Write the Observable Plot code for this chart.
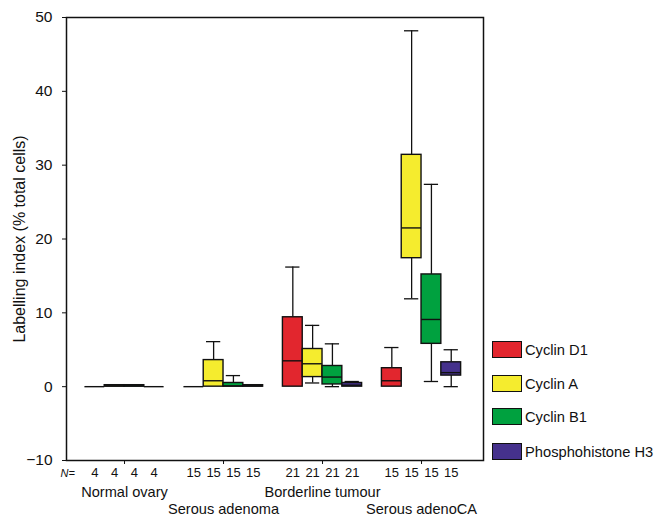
<!DOCTYPE html>
<html><head><meta charset="utf-8">
<script src="https://cdn.jsdelivr.net/npm/d3@7"></script>
<script src="https://cdn.jsdelivr.net/npm/@observablehq/plot@0.6"></script>
<style>
body{margin:0;background:#fff;font-family:Arial,"Liberation Sans",Helvetica,sans-serif;}
#wrap{position:relative;width:656px;height:518px;}
#wrap svg{overflow:visible;}
#wrap svg g[aria-label^="y-axis"] text{font-size:15.5px;}
.leg{position:absolute;left:492px;display:flex;align-items:center;font-size:14.7px;color:#111;height:17px;}
.sw{width:28px;height:15px;border:1px solid #111;margin-right:3px;box-sizing:content-box;}
</style></head><body><div id="wrap"></div>
<script>
const groups = ["Normal ovary", "Serous adenoma", "Borderline tumour", "Serous adenoCA"];
const markers = ["Cyclin D1", "Cyclin A", "Cyclin B1", "Phosphohistone H3"];
const colors = ["#e2262e", "#f5ec2e", "#00a13f", "#45318c"];
const nCounts = [4, 15, 21, 15];
const yTicks = [-10, 0, 10, 20, 30, 40, 50];
const yTitle = "Labelling index (% total cells)";
// [min, q1, median, q3, max] per group
const cyclinD1 = [[0,0,0,0,0],[0,0,0,0,0],[0,0,3.5,9.4,16.2],[0,0,0.8,2.5,5.3]];
const cyclinA  = [[0,0,0.1,0.2,0.2],[0,0,0.8,3.6,6.1],[0.5,1.3,3.1,5.1,8.3],[11.9,17.4,21.5,31.4,48.2]];
const cyclinB1 = [[0,0,0.1,0.2,0.2],[0,0,0.1,0.5,1.5],[0,0.3,1.3,2.8,5.8],[0.7,5.8,9.1,15.2,27.4]];
const phosphoH3 = [[0,0,0,0,0],[0,0,0.1,0.2,0.2],[0,0,0.2,0.5,0.7],[0,1.5,1.9,3.3,5.0]];
const series = [cyclinD1, cyclinA, cyclinB1, phosphoH3];

const rows = [];
groups.forEach((g, gi) => markers.forEach((m, k) => {
  const [min, q1, med, q3, max] = series[k][gi];
  const pos = gi * 5 + k;
  rows.push({group: g, marker: m, min, q1, med, q3, max, x1: pos, x2: pos + 1, xc: pos + 0.5, n: nCounts[gi]});
}));
const upper = rows.filter(d => d.max > d.q3);
const lower = rows.filter(d => d.min < d.q1);
const capHalf = 0.36;
const centers = groups.map((g, i) => i * 5 + 2);

const chart = Plot.plot({
  width: 656, height: 518,
  marginLeft: 66, marginRight: 173, marginTop: 17, marginBottom: 58,
  style: {fontFamily: 'Arial, "Liberation Sans", Helvetica, sans-serif', fontSize: "13px", color: "#111", background: "transparent"},
  x: {domain: [-0.93, 20.13], ticks: centers, tickFormat: () => "", tickSize: 4, label: null},
  y: {domain: [-10, 50], ticks: yTicks, tickFormat: d => d < 0 ? "\u2212" + Math.abs(d) : String(d), tickSize: 4, tickPadding: 10, label: null},
  color: {domain: markers, range: colors},
  marks: [
    Plot.ruleX(upper, {x: "xc", y1: "q3", y2: "max", stroke: "#111", strokeWidth: 1.3}),
    Plot.ruleX(lower, {x: "xc", y1: "min", y2: "q1", stroke: "#111", strokeWidth: 1.3}),
    Plot.ruleY(upper, {y: "max", x1: d => d.xc - capHalf, x2: d => d.xc + capHalf, stroke: "#111", strokeWidth: 1.3}),
    Plot.ruleY(lower, {y: "min", x1: d => d.xc - capHalf, x2: d => d.xc + capHalf, stroke: "#111", strokeWidth: 1.3}),
    Plot.rect(rows, {x1: "x1", x2: "x2", y1: "q1", y2: "q3", fill: "marker", stroke: "#111", strokeWidth: 1.4}),
    Plot.ruleY(rows, {y: "med", x1: "x1", x2: "x2", stroke: "#111", strokeWidth: 1.4}),
    Plot.frame({stroke: "#111", strokeWidth: 1.5}),
    Plot.text([yTitle], {frameAnchor: "left", textAnchor: "middle", rotate: -90, dx: -47, fontSize: 16}),
    Plot.text(rows, {x: "xc", text: d => String(d.n), frameAnchor: "bottom", dy: 16, fontSize: 13}),
    Plot.text(["N="], {frameAnchor: "bottom-left", dx: -6, dy: 16, fontSize: 11, fontStyle: "italic"}),
    Plot.text(groups, {x: (d, i) => centers[i], text: d => d, frameAnchor: "bottom", fontSize: 14.6})
  ]
});
document.getElementById("wrap").appendChild(chart);

// place group labels on two alternating rows
const texts = chart.querySelectorAll("g[aria-label='text']");
const gl = texts[texts.length - 1];
gl.querySelectorAll("text").forEach((t, i) => {
  t.setAttribute("dy", i % 2 ? "53" : "36");
});

const wrap = document.getElementById("wrap");
const legTops = [341, 375, 408, 443];
markers.forEach((m, i) => {
  const d = document.createElement("div");
  d.className = "leg";
  d.style.top = legTops[i] + "px";
  d.innerHTML = `<div class="sw" style="background:${colors[i]}"></div><span>${m}</span>`;
  wrap.appendChild(d);
});
</script></body></html>
